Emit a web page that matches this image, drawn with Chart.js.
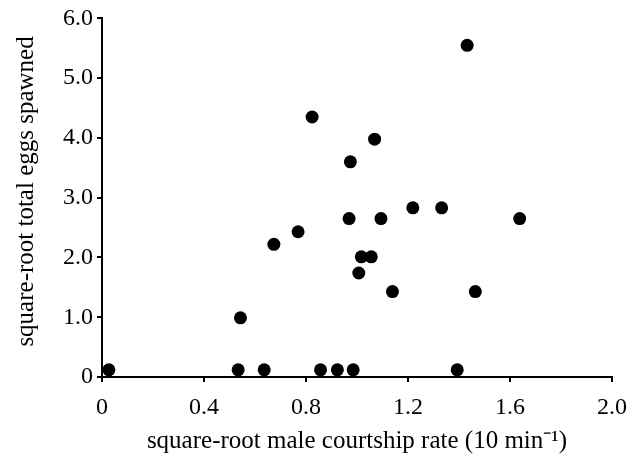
<html>
<head>
    <script src="https://cdn.jsdelivr.net/npm/chart.js"></script>
    <style>
        body { margin: 0; background: #ffffff; }
        #wrap { width: 639px; height: 460px; }
    </style>
</head>
<body>
    <div id="wrap"><canvas id="myChart"></canvas></div>
    <script>
        // square-root male courtship rate vs square-root total eggs spawned
        const courtship = [0.027, 0.534, 0.636, 0.857, 0.923, 0.985, 1.393,
            0.543, 0.674, 0.769, 0.824, 0.969, 0.974, 1.007, 1.017, 1.056,
            1.069, 1.094, 1.139, 1.219, 1.332, 1.432, 1.464, 1.638];
        const eggs = [0.12, 0.12, 0.12, 0.12, 0.12, 0.12, 0.12,
            0.99, 2.22, 2.43, 4.35, 2.65, 3.60, 1.74, 2.01, 2.01,
            3.98, 2.65, 1.43, 2.83, 2.83, 5.55, 1.43, 2.65];
        const xTicks = [0, 0.4, 0.8, 1.2, 1.6, 2.0];
        const yTicks = [0, 1, 2, 3, 4, 5, 6];

        const points = courtship.map((x, i) => ({ x: x, y: eggs[i] }));
        const serif = 'Liberation Serif';

        const config = {
            type: 'scatter',
            data: {
                datasets: [{
                    data: points,
                    backgroundColor: '#000000',
                    borderWidth: 0,
                    pointRadius: 6.5,
                    pointHoverRadius: 6.5
                }]
            },
            options: {
                responsive: true,
                maintainAspectRatio: false,
                animation: false,
                layout: { padding: { left: 0, top: 17, right: 27, bottom: 0 } },
                plugins: { legend: { display: false }, tooltip: { enabled: false } },
                scales: {
                    x: {
                        type: 'linear',
                        min: 0,
                        max: 2.0,
                        afterFit: (scale) => { scale.height = 83; },
                        afterBuildTicks: (scale) => { scale.ticks = xTicks.map(v => ({ value: v })); },
                        border: { display: true, color: '#000', width: 2 },
                        grid: { drawOnChartArea: false, drawTicks: true, tickLength: 5, color: '#000', lineWidth: 2 },
                        ticks: {
                            color: '#000',
                            padding: 11,
                            font: { family: serif, size: 24 },
                            callback: (v) => v === 0 ? '0' : v.toFixed(1)
                        },
                        title: {
                            display: true,
                            text: 'square-root male courtship rate (10 min\u207B\u00B9)',
                            color: '#000',
                            font: { family: serif, size: 25 },
                            padding: { top: 0, bottom: 4 }
                        }
                    },
                    y: {
                        type: 'linear',
                        min: 0,
                        max: 6.0,
                        afterFit: (scale) => { scale.width = 102; },
                        afterBuildTicks: (scale) => { scale.ticks = yTicks.map(v => ({ value: v })); },
                        border: { display: true, color: '#000', width: 2 },
                        grid: { drawOnChartArea: false, drawTicks: true, tickLength: 5, color: '#000', lineWidth: 2 },
                        ticks: {
                            color: '#000',
                            padding: 4,
                            font: { family: serif, size: 24 },
                            callback: (v) => v === 0 ? '0' : v.toFixed(1)
                        },
                        title: {
                            display: true,
                            // leading en space nudges the rotated title upward a little
                            text: '\u2002square-root total eggs spawned',
                            color: '#000',
                            font: { family: serif, size: 25 },
                            padding: { top: 11, bottom: 0 }
                        }
                    }
                }
            }
        };

        const myChart = new Chart(document.getElementById('myChart'), config);
    </script>
</body>
</html>
